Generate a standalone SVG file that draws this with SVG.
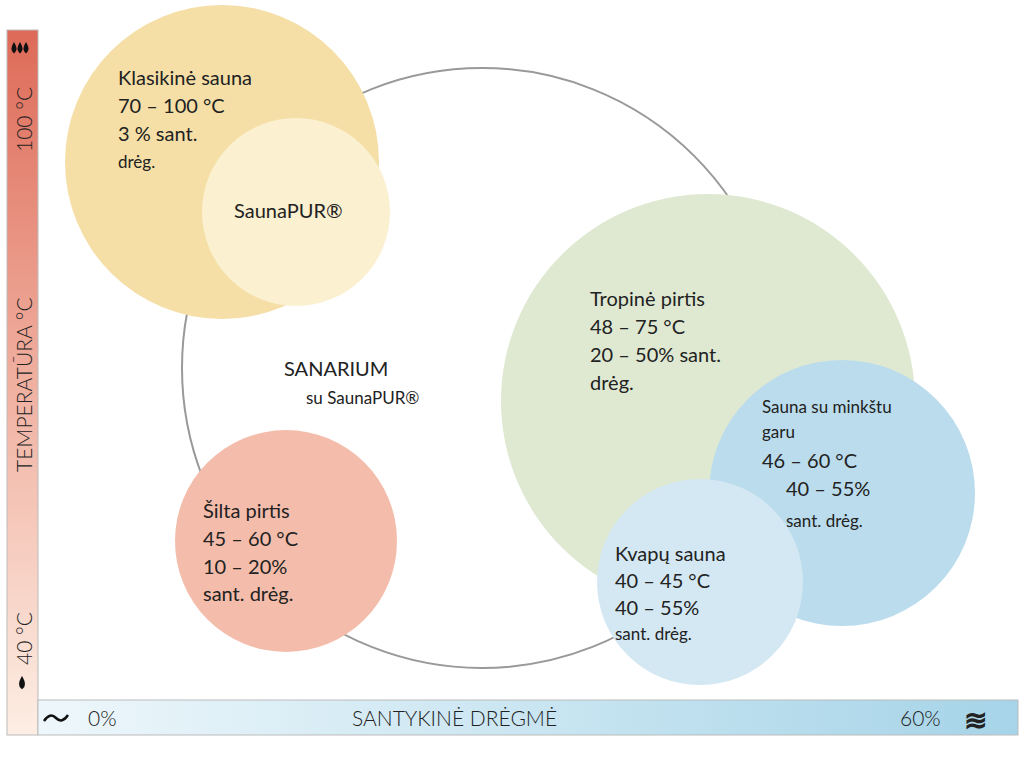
<svg xmlns="http://www.w3.org/2000/svg" width="1024" height="757" viewBox="0 0 1024 757">
<defs>
<linearGradient id="gv" x1="0" y1="0" x2="0" y2="1"><stop offset="0" stop-color="#de6a58"/><stop offset="0.5" stop-color="#f0b0a0"/><stop offset="1" stop-color="#fdeee4"/></linearGradient>
<linearGradient id="gh" x1="0" y1="0" x2="1" y2="0"><stop offset="0" stop-color="#eef7fb"/><stop offset="1" stop-color="#a6d4e8"/></linearGradient>
<style>
text{font-family:"Lato","Liberation Sans",sans-serif;fill:#222;font-size:20px}
.s{font-size:17px}
.ax{font-size:21px;font-weight:300}
.sym{font-size:28px;font-weight:bold}
</style>
</defs>
<rect width="1024" height="757" fill="#fff"/>
<g id="axes">
<rect x="7" y="30" width="31" height="705" fill="url(#gv)" stroke="#bbb" stroke-width="1"/>
<rect x="38" y="700" width="980" height="35" fill="url(#gh)" stroke="#bbb" stroke-width="1"/>
<text class="ax" transform="translate(32,152) rotate(-90)">100 °C</text>
<text class="ax" transform="translate(32,472) rotate(-90)">TEMPERATŪRA    °C</text>
<text class="ax" transform="translate(32,665) rotate(-90)">40 °C</text>
<path d="M44,721 q6,-9 12,-3 t12,-3" fill="none" stroke="#111" stroke-width="2.5"/>
<text class="ax" x="88" y="726">0%</text>
<text class="ax" x="352" y="726">SANTYKINĖ DRĖGMĖ</text>
<text class="ax" x="900" y="726">60%</text>
<text class="sym" x="964" y="730">≋</text>
</g>
<g id="drops" fill="#111">
<path d="M14,44 q-3,5 0,8 q3,-3 0,-8z M20,44 q-3,5 0,8 q3,-3 0,-8z M26,44 q-3,5 0,8 q3,-3 0,-8z" stroke="#111" stroke-width="2"/>
<path d="M22,678 q-4,7 0,10 q4,-3 0,-10z" stroke="#111" stroke-width="2"/>
</g>
<g id="sanarium"><circle cx="482" cy="368" r="300" fill="none" stroke="#999" stroke-width="2"/>
<text x="284" y="376">SANARIUM</text><text class="s" x="306" y="404">su SaunaPUR®</text></g>
<g id="klasikine"><circle cx="222" cy="162" r="157" fill="#f5dfa7"/>
<text x="118" y="85">Klasikinė sauna</text><text x="118" y="113">70 – 100 °C</text><text x="118" y="141">3 % sant.</text><text class="s" x="118" y="168">drėg.</text></g>
<g id="saunapur"><circle cx="296" cy="212" r="94" fill="#fbf0d0"/><text x="234" y="218">SaunaPUR®</text></g>
<g id="tropine"><circle cx="708" cy="401" r="207" fill="#dfe9d2"/>
<text x="590" y="306">Tropinė pirtis</text><text x="590" y="334">48 – 75 °C</text><text x="590" y="362">20 – 50% sant.</text><text x="590" y="390">drėg.</text></g>
<g id="minkstu"><circle cx="842" cy="493" r="133" fill="#badcec"/>
<text class="s" x="762" y="413">Sauna su minkštu</text><text class="s" x="762" y="438">garu</text><text x="762" y="468">46 – 60 °C</text><text x="786" y="496">40 – 55%</text><text class="s" x="786" y="527">sant. drėg.</text></g>
<g id="kvapu"><circle cx="700" cy="582" r="103" fill="#d4e8f3"/>
<text x="615" y="561">Kvapų sauna</text><text x="615" y="588">40 – 45 °C</text><text x="615" y="615">40 – 55%</text><text class="s" x="615" y="640">sant. drėg.</text></g>
<g id="silta"><circle cx="286" cy="541" r="111" fill="#f4bdab"/>
<text x="203" y="518">Šilta pirtis</text><text x="203" y="546">45 – 60 °C</text><text x="203" y="574">10 – 20%</text><text x="203" y="601">sant. drėg.</text></g>
</svg>
